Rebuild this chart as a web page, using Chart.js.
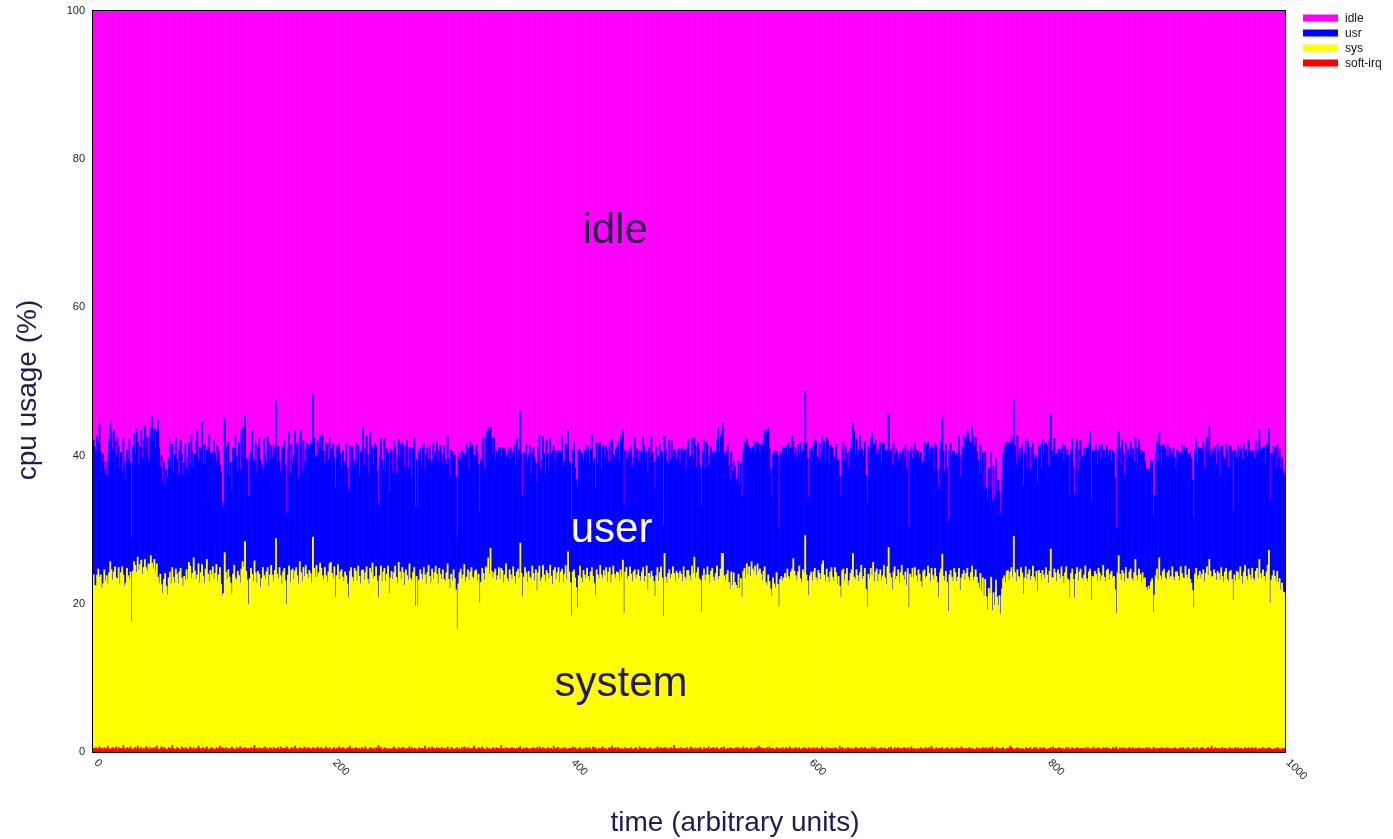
<!DOCTYPE html>
<html>
<head>
<meta charset="utf-8">
<script src="https://cdn.jsdelivr.net/npm/chart.js@4.4.1/dist/chart.umd.min.js"></script>
<style>
  html, body { margin: 0; padding: 0; background: #fff; }
  canvas { display: block; }
</style>
</head>
<body>
<canvas id="cpuChart" width="1393" height="839"></canvas>
<script>
// cpu usage per sample (%), one value per time unit
const softIrq = [
  0.5,0.4,0.6,0.3,0.5,0.7,0.4,0.5,0.3,0.6, 0.4,0.5,0.8,0.4,0.3,0.5,0.6,0.4,0.5,0.7,
  0.3,0.6,0.4,0.5,0.4,0.9,0.5,0.3,0.6,0.4, 0.5,0.7,0.4,0.3,0.5,0.6,0.4,0.8,0.5,0.4,
  0.6,0.3,0.5,0.4,0.7,0.5,0.3,0.6,0.4,0.5, 0.4,0.6,0.5,0.8,0.4,0.3,0.5,0.7,0.4,0.6,
  0.5,0.3,0.4,0.6,0.5,0.4,0.9,0.5,0.3,0.4, 0.6,0.5,0.4,0.3,0.7,0.5,0.4,0.6,0.5,0.3,
  0.4,0.7,0.5,0.4,0.6,0.3,0.5,0.4,0.8,0.5, 0.3,0.5,0.6,0.4,0.5,0.7,0.4,0.3,0.5,0.6,
  0.5,0.4,0.3,0.6,0.4,0.5,0.8,0.4,0.6,0.5, 0.4,0.6,0.5,0.3,0.5,0.4,0.7,0.5,0.4,0.3,
  0.6,0.4,0.5,0.7,0.3,0.5,0.4,0.6,0.5,0.4, 0.5,0.3,0.6,0.4,0.5,0.9,0.4,0.5,0.3,0.6,
  0.4,0.5,0.4,0.6,0.7,0.4,0.5,0.3,0.6,0.5, 0.3,0.6,0.5,0.4,0.5,0.6,0.3,0.7,0.4,0.5,
  0.5,0.4,0.7,0.5,0.3,0.4,0.6,0.5,0.4,0.8, 0.4,0.5,0.3,0.6,0.5,0.4,0.5,0.7,0.3,0.5,
  0.6,0.4,0.5,0.3,0.6,0.5,0.4,0.5,0.7,0.4, 0.5,0.6,0.4,0.5,0.3,0.7,0.5,0.4,0.6,0.3,
  0.4,0.5,0.6,0.3,0.5,0.4,0.7,0.5,0.4,0.6, 0.5,0.3,0.4,0.6,0.5,0.8,0.4,0.5,0.3,0.5,
  0.6,0.5,0.4,0.5,0.3,0.6,0.5,0.4,0.7,0.4, 0.3,0.4,0.6,0.5,0.4,0.5,0.3,0.6,0.5,0.9,
  0.5,0.6,0.3,0.4,0.6,0.5,0.4,0.3,0.5,0.4, 0.4,0.5,0.7,0.5,0.4,0.3,0.6,0.5,0.4,0.6,
  0.6,0.3,0.5,0.4,0.5,0.7,0.4,0.6,0.3,0.5, 0.5,0.4,0.3,0.6,0.4,0.5,0.5,0.4,0.8,0.4,
  0.3,0.6,0.5,0.4,0.7,0.4,0.5,0.3,0.6,0.5, 0.5,0.4,0.6,0.5,0.3,0.5,0.4,0.7,0.4,0.3,
  0.6,0.5,0.4,0.3,0.5,0.6,0.4,0.5,0.3,0.6, 0.4,0.7,0.5,0.4,0.6,0.3,0.5,0.4,0.5,0.8,
  0.5,0.3,0.4,0.6,0.5,0.4,0.7,0.5,0.4,0.3, 0.6,0.4,0.5,0.3,0.4,0.6,0.5,0.3,0.6,0.5,
  0.4,0.5,0.9,0.4,0.5,0.3,0.6,0.4,0.5,0.4, 0.5,0.6,0.4,0.5,0.3,0.5,0.4,0.6,0.7,0.4,
  0.3,0.5,0.4,0.6,0.5,0.4,0.3,0.5,0.4,0.6, 0.5,0.4,0.6,0.3,0.7,0.5,0.4,0.6,0.5,0.3,
  0.4,0.6,0.5,0.4,0.5,0.3,0.8,0.4,0.5,0.6, 0.6,0.3,0.4,0.5,0.4,0.6,0.5,0.3,0.4,0.5,
  0.5,0.4,0.7,0.5,0.6,0.4,0.3,0.5,0.6,0.4, 0.3,0.5,0.4,0.6,0.4,0.5,0.6,0.4,0.3,0.7,
  0.5,0.6,0.4,0.3,0.5,0.4,0.5,0.7,0.4,0.5, 0.4,0.3,0.5,0.6,0.4,0.8,0.4,0.5,0.6,0.3,
  0.6,0.5,0.4,0.5,0.3,0.4,0.6,0.5,0.4,0.5, 0.4,0.6,0.3,0.4,0.5,0.6,0.4,0.3,0.7,0.5,
  0.5,0.4,0.6,0.5,0.4,0.3,0.5,0.6,0.4,0.4, 0.3,0.5,0.4,0.7,0.5,0.4,0.6,0.4,0.5,0.6,
  0.6,0.4,0.5,0.3,0.6,0.5,0.4,0.9,0.5,0.4, 0.4,0.5,0.3,0.6,0.4,0.5,0.5,0.4,0.6,0.3,
  0.5,0.7,0.4,0.5,0.3,0.6,0.4,0.5,0.4,0.6, 0.4,0.3,0.6,0.4,0.5,0.4,0.7,0.3,0.5,0.5,
  0.6,0.5,0.4,0.6,0.4,0.3,0.5,0.6,0.4,0.7, 0.3,0.4,0.5,0.4,0.6,0.5,0.4,0.5,0.3,0.6,
  0.5,0.6,0.3,0.5,0.4,0.7,0.5,0.4,0.6,0.4, 0.4,0.5,0.6,0.3,0.5,0.4,0.6,0.5,0.8,0.5,
  0.6,0.4,0.5,0.5,0.3,0.6,0.4,0.7,0.4,0.5, 0.5,0.3,0.4,0.6,0.5,0.4,0.5,0.3,0.6,0.4,
  0.4,0.6,0.5,0.4,0.7,0.5,0.3,0.5,0.4,0.6, 0.5,0.4,0.6,0.3,0.4,0.5,0.6,0.4,0.5,0.3,
  0.6,0.5,0.3,0.5,0.6,0.4,0.5,0.6,0.3,0.5, 0.4,0.7,0.5,0.4,0.3,0.6,0.4,0.5,0.5,0.4,
  0.5,0.4,0.6,0.5,0.4,0.3,0.8,0.4,0.6,0.5, 0.3,0.5,0.4,0.6,0.5,0.4,0.5,0.3,0.4,0.6,
  0.6,0.4,0.5,0.3,0.6,0.5,0.4,0.6,0.5,0.4, 0.4,0.5,0.3,0.7,0.4,0.6,0.5,0.4,0.3,0.5,
  0.5,0.6,0.4,0.5,0.5,0.3,0.4,0.6,0.5,0.7, 0.3,0.4,0.6,0.4,0.5,0.6,0.3,0.5,0.4,0.5,
  0.6,0.5,0.4,0.6,0.3,0.5,0.7,0.4,0.5,0.4, 0.4,0.3,0.5,0.4,0.6,0.4,0.5,0.3,0.6,0.5,
  0.5,0.6,0.4,0.8,0.5,0.3,0.4,0.6,0.4,0.5, 0.4,0.5,0.6,0.3,0.4,0.5,0.6,0.5,0.3,0.4,
  0.6,0.4,0.3,0.5,0.6,0.4,0.5,0.4,0.7,0.5, 0.5,0.3,0.5,0.4,0.5,0.6,0.4,0.5,0.4,0.3,
  0.4,0.6,0.4,0.5,0.3,0.5,0.6,0.4,0.5,0.6, 0.3,0.5,0.6,0.4,0.7,0.4,0.3,0.5,0.6,0.4,
  0.5,0.4,0.5,0.6,0.4,0.3,0.5,0.4,0.5,0.8, 0.6,0.5,0.3,0.4,0.5,0.6,0.4,0.5,0.3,0.5,
  0.4,0.3,0.6,0.5,0.4,0.5,0.6,0.3,0.4,0.6, 0.5,0.6,0.4,0.3,0.6,0.4,0.5,0.6,0.5,0.4,
  0.3,0.4,0.5,0.6,0.4,0.7,0.4,0.5,0.4,0.5, 0.6,0.5,0.4,0.5,0.3,0.4,0.6,0.4,0.6,0.3,
  0.4,0.6,0.5,0.3,0.5,0.6,0.5,0.4,0.5,0.4, 0.5,0.3,0.6,0.4,0.6,0.5,0.3,0.5,0.4,0.7,
  0.4,0.5,0.4,0.6,0.5,0.3,0.4,0.6,0.5,0.5, 0.6,0.4,0.5,0.4,0.3,0.6,0.5,0.4,0.7,0.4,
  0.3,0.6,0.4,0.5,0.6,0.4,0.5,0.3,0.5,0.6, 0.5,0.4,0.6,0.3,0.5,0.5,0.4,0.6,0.4,0.5,
  0.4,0.5,0.3,0.6,0.4,0.6,0.5,0.4,0.3,0.6, 0.6,0.3,0.5,0.4,0.5,0.4,0.6,0.5,0.4,0.5,
  0.5,0.6,0.4,0.5,0.3,0.5,0.4,0.6,0.5,0.3, 0.4,0.5,0.6,0.4,0.6,0.3,0.5,0.4,0.6,0.5,
  0.3,0.4,0.5,0.6,0.4,0.5,0.6,0.3,0.4,0.5, 0.6,0.5,0.4,0.3,0.5,0.6,0.4,0.5,0.8,0.4,
  0.4,0.6,0.5,0.4,0.5,0.3,0.5,0.6,0.4,0.5, 0.5,0.3,0.4,0.6,0.4,0.5,0.3,0.5,0.6,0.4,
  0.6,0.4,0.5,0.5,0.3,0.4,0.6,0.4,0.5,0.6, 0.4,0.5,0.6,0.4,0.5,0.6,0.4,0.3,0.5,0.4,
  0.5,0.6,0.3,0.5,0.4,0.5,0.6,0.5,0.4,0.3, 0.4,0.5,0.4,0.6,0.5,0.4,0.3,0.5,0.4,0.5
];

const sys = [
  23.4,22.1,21.8,23.6,24.2,22.9,23.5,21.6,22.4,24.0, 22.7,23.3,21.9,23.8,25.4,24.1,22.6,23.9,24.5,22.8,
  23.1,24.3,22.2,23.7,24.6,23.0,21.9,22.5,24.2,23.4, 22.8,23.6,17.2,24.1,25.2,24.6,23.8,25.5,24.0,24.9,
  25.3,23.7,24.4,25.6,24.2,23.9,25.1,24.7,26.1,25.0, 24.3,25.4,23.8,24.6,23.2,22.4,23.5,21.9,21.0,22.7,
  23.6,22.1,20.8,22.9,23.8,22.3,24.0,23.1,22.5,24.3, 23.4,22.2,23.9,24.5,22.8,21.9,23.3,22.6,24.1,23.0,
  25.2,24.4,22.9,23.7,25.6,24.1,22.8,23.5,24.6,22.3, 23.9,24.8,23.1,22.4,24.2,25.3,23.6,22.7,24.0,23.3,
  24.5,22.9,23.8,24.7,22.6,23.4,24.1,22.2,20.5,20.9, 26.5,23.7,22.8,24.3,23.1,22.4,20.6,23.5,24.8,23.2,
  22.6,24.0,23.3,22.1,24.4,25.2,24.6,27.8,23.9,22.8, 19.4,23.1,24.2,23.6,22.5,24.9,23.8,22.3,24.1,23.4,
  21.8,22.9,24.5,23.2,22.6,23.9,24.4,22.1,23.3,24.7, 23.6,22.4,24.0,28.4,23.5,22.8,24.6,23.1,22.2,23.8,
  24.3,22.7,19.2,23.4,24.8,22.5,23.9,24.2,22.9,23.6, 24.5,23.3,22.4,25.1,23.7,22.6,24.4,23.0,24.9,23.5,
  22.8,24.1,23.6,22.5,28.4,24.3,23.2,24.7,22.9,23.8, 25.0,24.2,23.4,22.7,24.6,23.1,22.4,23.9,24.8,25.3,
  23.7,22.9,24.4,20.6,23.3,24.9,22.6,23.8,24.2,23.0, 22.5,24.0,23.4,22.1,20.3,23.6,24.5,23.1,22.7,24.3,
  23.8,22.6,24.7,23.2,22.4,23.9,24.1,22.8,23.5,24.6, 23.0,22.3,24.2,23.7,25.1,22.9,23.4,24.4,22.6,20.0,
  23.3,24.5,22.7,23.9,24.2,22.5,23.6,24.8,20.9,23.1, 24.0,22.8,23.5,24.6,23.2,22.4,25.0,23.8,22.9,24.3,
  23.6,22.2,24.1,23.4,22.7,24.7,23.0,22.5,23.9,24.4, 19.2,23.3,19.4,22.6,24.2,23.5,22.8,24.5,23.1,22.3,
  23.9,24.6,23.2,22.4,24.0,22.9,23.7,24.8,23.4,22.2, 24.3,23.6,22.7,24.1,23.0,22.5,23.8,24.7,22.9,21.8,
  23.4,22.6,24.2,23.1,21.4,16.0,22.3,23.7,24.4,22.8, 23.5,24.6,22.4,23.2,24.0,22.9,23.8,24.5,23.1,22.6,
  23.9,24.3,22.7,23.4,19.6,22.5,24.1,23.6,22.8,24.7, 24.2,25.8,23.5,27.2,24.0,22.9,23.7,24.4,22.6,23.3,
  24.5,22.8,23.9,24.1,22.3,23.6,24.8,23.0,22.5,24.2, 23.4,22.7,24.6,23.2,22.4,23.8,24.3,22.9,27.5,23.7,
  20.7,23.1,24.5,23.6,22.4,24.0,23.3,22.8,24.7,23.5, 22.6,24.2,21.2,23.9,24.4,22.5,23.1,24.6,23.4,22.7,
  24.1,23.5,22.9,24.8,23.2,22.3,23.7,24.5,22.8,23.6, 24.3,22.6,23.9,24.2,22.5,23.4,24.7,23.0,26.6,23.8,
  22.4,18.0,23.6,24.1,22.9,21.8,19.2,23.3,24.5,23.1, 22.6,24.0,23.5,22.8,24.4,23.2,22.5,23.9,24.6,23.0,
  22.3,20.5,24.2,23.6,22.9,24.8,23.4,22.7,24.1,23.3, 24.5,22.6,23.8,24.3,22.4,23.1,24.7,23.5,22.8,24.0,
  23.6,22.5,24.2,23.0,25.6,18.3,23.7,24.4,22.9,23.2, 24.6,23.4,22.7,23.9,24.1,22.8,23.5,24.3,23.0,22.6,
  23.8,24.5,22.4,23.2,24.7,21.6,23.6,22.9,24.0,23.3, 22.7,20.5,23.4,24.2,22.6,23.8,24.4,23.1,17.8,26.2,
  23.0,22.4,23.6,24.3,22.8,23.5,24.6,23.2,22.5,24.0, 23.7,22.9,24.1,23.4,22.6,24.5,23.1,22.8,23.9,24.2,
  23.3,22.5,24.7,23.6,26.0,22.9,23.8,24.4,23.0,22.6, 18.5,23.5,24.1,22.7,23.4,24.6,23.2,22.4,23.9,24.3,
  23.0,22.6,23.7,24.5,22.9,23.4,24.2,26.2,26.4,23.1, 22.8,23.6,24.0,22.5,21.4,23.8,22.1,23.7,22.6,21.9,
  21.6,23.4,21.8,22.9,20.5,23.7,24.3,23.0,24.8,23.5, 24.6,23.2,25.1,24.4,23.8,24.7,23.3,24.9,23.6,24.2,
  23.4,22.8,23.9,24.5,22.6,21.9,23.5,22.3,21.6,20.5, 23.0,22.4,21.7,23.6,22.1,19.2,22.8,23.4,22.5,23.1,
  23.7,22.9,24.2,23.3,22.6,23.8,24.4,25.6,24.0,23.2, 22.7,23.9,24.5,23.1,22.5,24.1,23.6,28.8,23.4,22.8,
  20.5,23.3,24.0,22.6,23.7,24.4,23.0,22.5,24.2,23.6, 22.9,24.6,25.3,23.5,22.7,24.1,23.2,22.4,23.8,24.5,
  23.1,22.6,24.3,23.7,22.2,23.4,21.6,20.5,23.9,24.2, 22.8,23.5,24.4,21.9,22.6,23.7,24.1,26.5,23.2,22.7,
  24.0,23.4,22.5,23.9,24.6,22.8,23.3,24.2,21.5,19.2, 23.6,22.9,24.5,23.1,25.2,22.4,23.8,24.3,22.7,23.5,
  24.1,22.6,23.4,24.7,23.0,22.3,24.6,27.0,23.6,22.8, 21.6,23.9,24.4,22.9,23.2,24.0,22.5,23.7,24.8,23.3,
  22.6,23.8,22.1,24.2,19.2,23.5,22.9,24.4,23.0,24.5, 23.4,22.7,24.1,23.6,22.4,21.8,23.9,24.3,22.8,23.2,
  24.6,23.5,22.6,24.0,23.3,22.9,24.4,23.1,22.5,20.4, 23.8,24.2,26.1,23.4,22.7,23.9,22.3,18.5,23.6,24.1,
  23.0,22.6,24.5,23.7,22.4,23.2,24.3,21.4,22.8,23.5, 24.0,22.9,23.6,24.4,23.1,22.5,23.8,24.6,22.7,23.3,
  24.2,23.0,22.4,21.6,23.8,21.2,22.9,20.6,22.8,20.4, 18.9,21.6,20.8,23.2,18.4,21.1,19.5,22.7,20.3,19.4,
  20.6,18.2,21.5,22.8,23.4,22.6,23.9,24.1,22.7,23.5, 24.3,23.1,28.8,23.8,22.5,24.0,23.3,22.9,24.6,23.7,
  20.9,23.2,24.4,22.8,23.6,24.1,22.6,23.4,24.7,23.0, 22.5,23.8,21.3,24.2,23.5,22.7,24.0,23.3,22.9,24.5,
  23.6,22.4,23.9,26.8,23.1,22.8,24.3,23.7,22.6,24.1, 23.4,22.9,24.6,23.2,22.5,23.8,24.4,23.0,22.6,20.5,
  23.7,24.1,22.8,20.5,23.5,24.3,22.6,23.9,24.2,23.1, 22.7,23.6,24.5,23.0,22.4,23.8,24.4,20.0,23.3,22.9,
  24.0,23.5,22.6,24.2,23.7,22.8,23.4,24.6,23.1,22.5, 23.9,24.3,22.7,23.6,24.1,22.9,23.2,21.5,18.0,23.8,
  26.2,23.4,22.8,24.0,23.5,22.6,24.4,23.1,22.9,23.7, 24.2,23.0,22.5,23.9,25.5,23.3,22.7,24.1,23.6,22.4,
  23.8,22.9,23.2,21.6,21.4,21.8,21.5,22.6,23.1,18.3, 20.6,23.5,24.2,22.8,25.7,23.4,22.6,23.9,24.3,23.0,
  22.7,23.6,24.1,22.9,23.4,24.5,23.2,22.5,23.8,24.0, 23.3,22.6,24.4,23.7,22.9,23.1,24.6,23.5,22.8,24.2,
  23.0,22.4,21.3,18.9,23.6,24.3,22.7,23.5,24.0,22.9, 23.4,24.1,22.6,23.8,24.5,23.2,25.6,23.9,22.8,23.3,
  24.2,23.5,22.7,24.0,23.6,22.9,24.4,23.1,22.5,23.8, 24.3,23.0,22.6,23.7,24.1,22.8,20.2,23.4,22.5,24.0,
  23.6,22.9,24.5,23.2,22.4,23.9,24.6,23.3,22.7,24.1, 23.5,22.8,24.2,23.0,22.6,23.8,24.4,23.1,25.5,23.7,
  22.9,24.0,23.4,22.5,23.9,24.7,26.6,19.6,22.8,23.5, 24.1,23.2,22.6,23.8,22.4,23.0,21.6,22.3,21.2,21.0
];

const usr = [
  18.2,18.7,17.9,18.7,17.0,20.6,16.6,17.0,17.5,13.4, 16.1,13.6,17.6,18.0,18.7,18.6,17.7,19.1,16.9,16.4,
  19.1,16.3,15.9,16.2,12.9,18.3,16.8,13.9,16.0,15.6, 18.9,14.7,11.4,16.8,17.3,15.0,19.4,15.5,14.4,15.8,
  17.5,15.7,17.2,18.1,16.0,18.1,14.0,17.2,17.2,19.8, 17.2,17.6,16.6,18.0,21.2,18.4,14.4,17.4,15.2,15.8,
  11.8,15.7,15.8,16.2,17.6,15.7,16.6,14.2,17.3,17.8, 15.5,14.9,16.4,17.3,16.7,14.9,15.3,18.3,13.6,16.4,
  16.1,13.8,19.5,16.3,12.0,15.8,18.7,19.5,14.1,18.3, 16.8,19.2,15.2,18.6,14.1,14.8,17.3,19.9,15.7,16.5,
  15.4,18.8,16.2,13.9,18.3,16.7,13.8,15.1,12.1,12.4, 18.1,16.9,14.4,17.2,13.6,16.3,13.9,17.1,15.8,19.2,
  16.7,13.5,17.9,15.2,18.8,18.1,14.6,17.0,14.9,16.4, 14.6,16.9,15.8,19.4,16.2,13.7,17.5,14.9,16.8,18.3,
  17.2,15.4,13.1,18.6,16.9,14.8,17.7,19.3,15.5,16.1, 15.9,18.4,16.6,18.6,15.1,17.8,14.3,13.9,18.6,16.4,
  17.2,15.6,12.3,16.9,18.1,14.8,17.0,14.6,16.7,19.0, 16.3,17.9,14.4,16.8,19.2,14.9,17.1,15.5,15.6,17.7,
  18.1,16.4,17.5,19.3,19.3,17.6,16.2,14.8,18.4,16.9, 17.3,15.8,18.9,17.4,14.2,17.9,18.6,15.1,17.0,15.4,
  16.6,18.2,14.7,14.8,17.5,15.3,18.4,15.9,13.7,17.1, 16.2,14.4,17.8,15.6,14.6,16.9,14.2,17.6,16.4,13.8,
  17.4,15.9,16.3,13.6,17.8,16.1,19.2,15.5,16.7,17.6, 16.8,14.7,18.4,17.1,15.5,15.3,17.9,16.2,14.8,12.6,
  15.9,17.2,16.4,13.7,17.5,14.8,16.9,15.2,13.6,17.4, 16.3,14.6,17.8,16.1,13.9,17.3,16.6,15.4,18.2,16.8,
  17.1,15.9,16.5,18.3,15.2,15.7,17.6,13.8,16.9,17.4, 13.4,15.8,13.2,17.3,16.4,14.6,18.1,16.7,14.2,17.5,
  16.8,14.3,17.6,16.2,14.7,18.4,16.1,15.5,17.9,16.6, 15.9,17.4,16.8,14.2,18.1,16.5,14.6,17.2,16.3,15.1,
  16.8,17.5,15.3,16.7,15.2,12.4,17.1,16.2,14.8,17.4, 16.5,14.8,17.3,18.1,16.4,14.9,17.6,16.2,17.8,16.7,
  15.6,16.9,17.4,14.8,12.4,16.6,17.2,18.3,15.1,17.5, 18.4,17.6,19.3,16.3,17.9,16.8,18.2,14.7,17.4,16.5,
  16.2,17.8,14.9,16.6,18.1,17.0,14.4,16.7,17.9,14.8, 17.2,16.4,15.5,17.7,15.9,18.0,14.8,17.3,17.8,16.1,
  13.5,16.8,14.9,17.3,16.4,15.7,17.8,14.2,15.3,17.0, 16.6,14.4,14.6,16.9,17.7,15.1,15.8,17.4,16.3,14.5,
  17.6,16.2,14.9,17.1,16.5,18.0,16.8,14.4,17.3,16.0, 15.8,17.5,16.3,17.9,15.7,15.2,16.4,17.8,16.4,14.9,
  16.1,12.9,16.5,17.2,14.8,14.6,16.2,17.0,15.6,16.9, 17.4,14.9,16.8,18.1,15.3,17.5,15.7,16.6,17.9,15.2,
  16.8,14.4,17.1,15.0,18.2,16.6,14.4,17.7,16.9,15.8, 16.4,17.8,14.9,17.2,16.6,18.3,15.1,15.7,17.4,16.9,
  17.7,16.2,18.1,18.6,17.6,14.6,16.4,14.8,17.3,16.7, 15.9,17.3,15.6,15.4,17.8,16.2,17.0,14.6,16.9,17.5,
  16.3,17.6,18.2,15.8,15.4,15.9,17.1,16.4,18.3,16.7, 16.2,14.5,17.4,14.9,16.8,17.3,15.6,16.9,12.2,15.8,
  17.1,16.5,14.8,17.6,16.2,18.0,14.9,16.7,17.4,15.1, 16.8,17.5,14.6,16.9,18.1,15.3,17.2,14.8,16.6,17.7,
  15.9,16.7,17.3,15.2,16.1,17.8,14.5,16.9,17.4,15.3, 14.4,16.8,17.5,15.1,17.9,16.4,14.7,17.2,16.8,15.6,
  16.9,17.4,16.2,17.1,20.4,16.7,17.8,16.5,17.6,16.3, 17.2,16.6,16.9,15.8,14.7,16.2,15.4,14.9,15.6,14.1,
  14.8,15.3,13.9,15.6,13.6,16.4,17.1,18.2,16.9,17.5, 16.1,17.3,14.8,16.5,17.7,15.2,17.9,16.4,17.1,15.8,
  17.5,18.3,17.6,18.4,19.6,21.0,19.8,17.9,16.2,13.5, 16.8,17.9,18.6,16.3,17.4,11.0,17.2,16.5,18.1,17.4,
  16.9,17.8,15.4,18.2,17.5,16.7,17.9,15.8,15.9,17.3, 16.6,17.2,15.1,18.3,17.4,16.2,17.6,19.4,17.8,16.5,
  13.3,17.1,16.4,18.2,15.9,17.3,18.5,16.7,14.9,17.6, 16.8,17.4,15.5,18.0,16.3,17.7,18.4,15.9,17.1,16.2,
  17.5,16.8,14.9,17.3,16.6,15.7,14.8,13.7,16.4,17.1, 16.3,17.2,15.5,15.8,17.4,16.9,17.6,17.5,19.7,16.8,
  17.6,16.1,17.8,18.5,15.9,17.4,16.2,17.1,15.3,13.9, 17.2,16.8,17.5,19.3,15.6,18.5,17.9,15.4,17.8,16.7,
  17.3,15.9,17.8,16.5,17.2,18.1,15.6,18.0,16.4,17.3, 16.8,17.4,15.2,17.7,16.9,14.8,17.5,16.3,14.9,17.1,
  16.5,17.2,15.8,15.9,11.0,16.4,17.6,14.8,17.3,16.7, 16.2,17.7,15.9,15.8,17.4,16.6,14.9,17.2,16.5,17.8,
  16.9,15.3,17.9,16.5,17.2,14.7,16.8,17.6,15.2,14.9, 16.6,17.3,18.4,16.9,14.8,17.1,15.5,12.4,16.8,17.2,
  16.4,17.6,15.8,15.9,17.3,16.2,17.8,15.4,16.6,17.1, 18.3,19.1,17.9,18.6,19.4,18.8,17.6,18.9,19.5,17.8,
  17.8,17.0,16.6,15.4,17.2,15.8,16.9,14.4,17.2,14.6, 14.8,16.2,14.3,16.9,14.8,17.1,14.6,16.5,14.2,16.9,
  14.0,13.6,15.8,16.9,17.5,18.2,17.4,16.8,18.6,17.3, 17.8,18.4,18.5,17.2,15.7,18.1,16.4,17.6,14.9,17.3,
  14.6,16.8,17.3,15.2,17.9,16.5,14.8,17.4,16.6,15.9, 17.1,15.4,14.7,16.8,17.5,15.1,17.7,16.3,18.2,16.9,
  17.4,15.7,17.9,18.2,17.2,16.5,17.6,15.8,17.3,16.1, 16.9,17.5,15.3,17.8,16.6,17.1,15.2,17.4,16.8,14.0,
  16.8,17.6,15.1,14.0,16.9,17.3,14.8,16.5,17.4,16.2, 16.7,17.1,14.9,17.6,18.2,17.4,18.6,13.5,16.9,17.2,
  16.3,17.5,15.8,15.9,17.2,16.6,17.8,15.4,17.1,16.7, 16.9,15.2,17.5,16.8,14.9,17.3,16.6,15.1,11.5,16.8,
  16.8,17.1,15.5,17.6,16.2,14.3,16.8,16.1,17.4,15.6, 17.2,16.4,17.8,14.9,16.5,17.3,15.7,17.5,16.2,17.9,
  16.3,17.1,15.8,15.9,16.4,15.7,16.2,16.5,15.8,13.0, 13.4,16.6,17.2,15.9,16.9,17.5,15.3,17.1,16.7,17.4,
  16.8,17.3,15.4,17.6,16.9,15.2,17.5,16.6,14.1,16.4, 16.9,17.4,15.2,17.3,16.6,17.8,15.5,17.1,16.8,15.3,
  17.2,16.7,14.9,12.2,16.8,17.4,15.6,17.3,16.5,17.6, 16.9,17.3,15.4,17.1,17.5,16.8,17.9,15.6,17.3,16.9,
  16.5,17.2,15.8,17.4,16.6,14.1,16.4,17.6,16.9,15.3, 16.8,17.4,15.5,17.1,16.7,17.3,12.0,16.9,17.5,15.4,
  17.2,16.6,15.9,17.5,16.8,17.3,15.5,17.1,16.7,17.4, 16.6,17.3,15.9,17.2,16.5,17.6,15.8,17.4,17.5,16.9,
  17.2,16.5,17.6,15.9,17.3,16.7,16.4,13.7,17.1,16.6, 16.9,17.4,15.2,17.1,16.8,17.5,16.3,16.9,16.4,16.0
];

// idle is what is left of 100 %
const idle = sys.map((s, i) => +(100 - softIrq[i] - s - usr[i]).toFixed(1));

const legendNames = ['idle', 'usr', 'sys', 'soft-irq'];
const xTicks = [0, 200, 400, 600, 800, 1000];
const areaLabels = ['idle', 'user', 'system'];

const FONT = "'Liberation Sans', Arial, sans-serif";
const TEXT_DARK = '#241a4c';

function toPoints(arr) {
    return arr.map(function(v, i) { return {x: i + 0.5, y: v}; });
}

const barStyle = {
    borderWidth: 0,
    barPercentage: 1,
    categoryPercentage: 1
};

const decorations = {
    id: 'decorations',
    afterDraw(chart) {
        const ctx = chart.ctx;
        const a = chart.chartArea;
        const xs = chart.scales.x;
        const ys = chart.scales.y;
        ctx.save();

        // frame round the plot
        ctx.strokeStyle = '#000';
        ctx.lineWidth = 1;
        ctx.strokeRect(a.left - 0.5, a.top - 0.5, a.right - a.left + 1, a.bottom - a.top + 1);

        // x tick labels, slanted down to the right
        ctx.fillStyle = '#222';
        ctx.font = '11px ' + FONT;
        ctx.textAlign = 'left';
        ctx.textBaseline = 'middle';
        xTicks.forEach(function(t) {
            const px = xs.getPixelForValue(t);
            ctx.save();
            ctx.translate(px + 3, a.bottom + 9);
            ctx.rotate(Math.PI / 4);
            ctx.fillText(String(t), 0, 0);
            ctx.restore();
        });

        // axis titles
        ctx.fillStyle = TEXT_DARK;
        ctx.font = '28px ' + FONT;
        ctx.textAlign = 'center';
        ctx.textBaseline = 'middle';
        ctx.fillText('time (arbitrary units)', 735, 823);
        ctx.save();
        ctx.translate(28, 390);
        ctx.rotate(-Math.PI / 2);
        ctx.fillText('cpu usage (%)', 0, 0);
        ctx.restore();

        // names written over the areas
        ctx.font = '42px ' + FONT;
        ctx.fillStyle = TEXT_DARK;
        ctx.fillText(areaLabels[0], xs.getPixelForValue(438), ys.getPixelForValue(70.2));
        ctx.fillStyle = '#ffffff';
        ctx.fillText(areaLabels[1], xs.getPixelForValue(435), ys.getPixelForValue(29.9));
        ctx.fillStyle = TEXT_DARK;
        ctx.fillText(areaLabels[2], xs.getPixelForValue(443), ys.getPixelForValue(9.1));

        // legend, top right
        const byName = {};
        chart.data.datasets.forEach(function(ds) { byName[ds.label] = ds.backgroundColor; });
        ctx.font = '12px ' + FONT;
        ctx.textAlign = 'left';
        legendNames.forEach(function(name, i) {
            const cy = 18 + i * 15;
            ctx.fillStyle = byName[name];
            ctx.fillRect(1303, cy - 3.5, 35, 7);
            ctx.fillStyle = '#111';
            ctx.fillText(name, 1345, cy + 1);
        });

        ctx.restore();
    }
};

const ctx = document.getElementById('cpuChart');
const myChart = new Chart(ctx, {
    type: 'bar',
    data: {
        datasets: [
            Object.assign({label: 'soft-irq', data: toPoints(softIrq), backgroundColor: '#ff0000'}, barStyle),
            Object.assign({label: 'sys', data: toPoints(sys), backgroundColor: '#ffff00'}, barStyle),
            Object.assign({label: 'usr', data: toPoints(usr), backgroundColor: '#0000ff'}, barStyle),
            Object.assign({label: 'idle', data: toPoints(idle), backgroundColor: '#ff00ff'}, barStyle)
        ]
    },
    options: {
        responsive: false,
        animation: false,
        devicePixelRatio: 1,
        layout: { padding: { top: 11, right: 108, left: 0, bottom: 0 } },
        plugins: {
            legend: { display: false },
            tooltip: { enabled: false }
        },
        scales: {
            x: {
                type: 'linear',
                stacked: true,
                offset: false,
                min: 0,
                max: 1000,
                grid: { display: false, offset: false },
                border: { display: false },
                ticks: { display: false },
                afterFit: function(scale) {
                    scale.height = 87;
                    scale.paddingLeft = 0;
                    scale.paddingRight = 0;
                }
            },
            y: {
                stacked: true,
                min: 0,
                max: 100,
                grid: { display: false, drawTicks: false },
                border: { display: false },
                ticks: {
                    stepSize: 20,
                    padding: 8,
                    color: '#222',
                    font: { family: FONT, size: 11 }
                },
                afterFit: function(scale) {
                    scale.width = 93;
                    scale.paddingTop = 0;
                    scale.paddingBottom = 0;
                }
            }
        }
    },
    plugins: [decorations]
});
</script>
</body>
</html>
